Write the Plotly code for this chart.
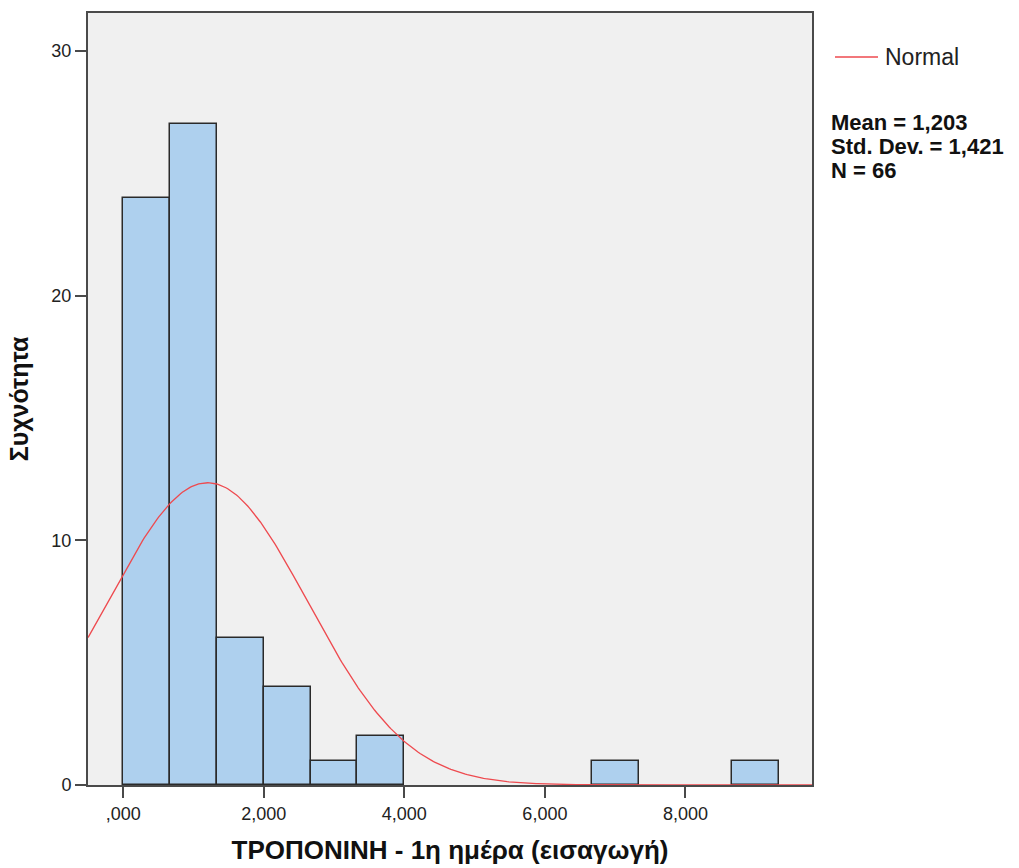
import numpy as np
import plotly.graph_objects as go

# ---- data ----
bin_start = 0.0
bin_width = 2.0 / 3.0
counts = [24, 27, 6, 4, 1, 2, 0, 0, 0, 0, 1, 0, 0, 1]
mean_val = 1.203
sd_val = 1.421
n_val = 66
x_tickvals = [0, 2, 4, 6, 8]
x_ticktext = [",000", "2,000", "4,000", "6,000", "8,000"]
y_tickvals = [0, 10, 20, 30]
x_title = "ΤΡΟΠΟΝΙΝΗ - 1η ημέρα (εισαγωγή)"
y_title = "Συχνότητα"
stats_lines = ["Mean = 1,203", "Std. Dev. = 1,421", "N = 66"]

FONT = "Liberation Sans, Arial, sans-serif"
W, H = 1019, 868
ML, MR, MT, MB = 88, 207, 13, 83
PW, PH = W - ML - MR, H - MT - MB


def px_x(p):
    return (p - ML) / PW


def px_y(p):
    return (H - MB - p) / PH


centers = [bin_start + (i + 0.5) * bin_width for i, c in enumerate(counts) if c > 0]
heights = [c for c in counts if c > 0]

xr = [-0.5, 9.8]
xs = np.linspace(xr[0], xr[1], 400)
ys = n_val * bin_width * np.exp(-0.5 * ((xs - mean_val) / sd_val) ** 2) / (sd_val * np.sqrt(2 * np.pi))

red = "#ee4a4f"

fig = go.Figure()
fig.add_trace(go.Bar(
    x=centers, y=heights, width=bin_width,
    marker=dict(color="#aed0ee", line=dict(color="#2a2a2a", width=1.5)),
    showlegend=False, hoverinfo="skip",
))
fig.add_trace(go.Scatter(
    x=xs, y=ys, mode="lines", name="Normal",
    line=dict(color=red, width=1.3), showlegend=False,
))

axis_common = dict(
    showgrid=False, zeroline=False, showline=True, linecolor="#4a4a4a", linewidth=2,
    mirror=True, ticks="outside", ticklen=11, tickwidth=2, tickcolor="#4a4a4a",
    tickfont=dict(family=FONT, size=18, color="#222"), automargin=False,
)

annotations = [dict(
    x=px_x(883), y=px_y(57), xref="paper", yref="paper", xanchor="left", yanchor="middle",
    showarrow=False, text="Normal", font=dict(family=FONT, size=23, color="#222"),
)]
for i, line in enumerate(stats_lines):
    annotations.append(dict(
        x=px_x(830), y=px_y(122.5 + i * 24), xref="paper", yref="paper",
        xanchor="left", yanchor="middle", showarrow=False, borderpad=0,
        text="<b>" + line + "</b>", font=dict(family=FONT, size=22, color="#111"),
    ))

fig.update_layout(
    width=W, height=H,
    margin=dict(l=ML, r=MR, t=MT, b=MB),
    paper_bgcolor="white", plot_bgcolor="#f0f0f0",
    font=dict(family=FONT, color="#222"),
    bargap=0,
    xaxis=dict(range=xr, tickvals=x_tickvals, ticktext=x_ticktext,
               title=dict(text="<b>" + x_title + "</b>", font=dict(family=FONT, size=26, color="#111"), standoff=18),
               **axis_common),
    yaxis=dict(range=[0, 31.55], tickvals=y_tickvals,
               title=dict(text="<b>" + y_title + "</b>", font=dict(family=FONT, size=25, color="#111"), standoff=16),
               **axis_common),
    showlegend=False,
    shapes=[dict(type="line", xref="paper", yref="paper",
                 x0=px_x(835), x1=px_x(878), y0=px_y(57), y1=px_y(57),
                 line=dict(color=red, width=1.5))],
    annotations=annotations,
)

fig.write_html("out.html")
